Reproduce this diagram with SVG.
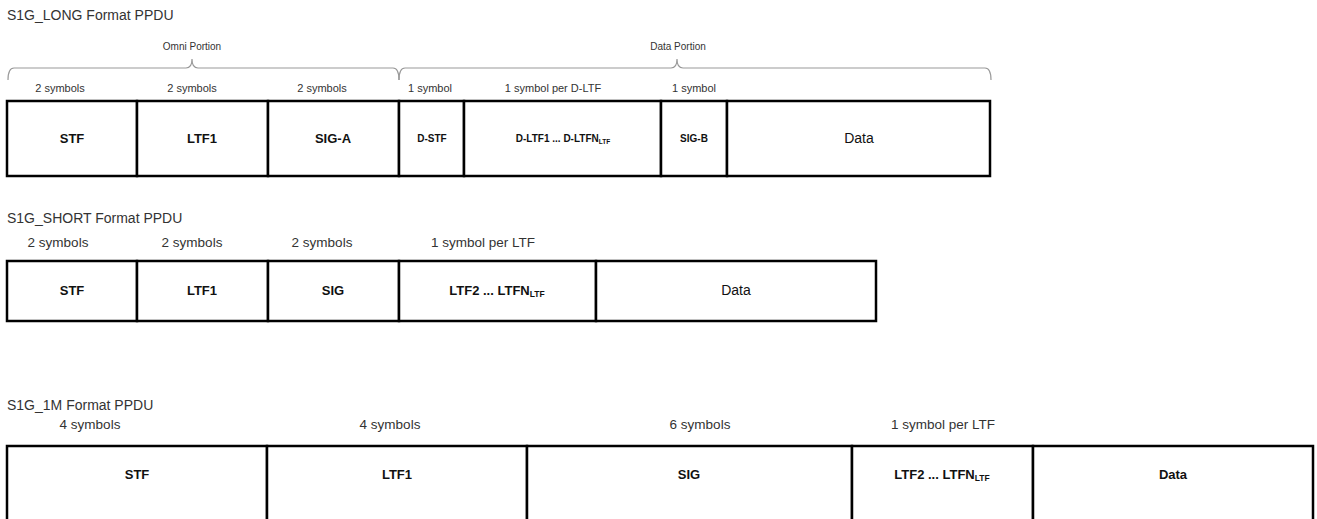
<svg xmlns="http://www.w3.org/2000/svg" width="1317" height="519" viewBox="0 0 1317 519">
<style>
.title{font-family:"Liberation Sans",Arial,sans-serif;font-size:14px;fill:#333}
.lbl{font-family:"Liberation Sans",Arial,sans-serif;font-size:11px;fill:#333;text-anchor:middle}
.lbl2{font-family:"Liberation Sans",Arial,sans-serif;font-size:13.5px;fill:#333;text-anchor:middle}
.por{font-family:"Liberation Sans",Arial,sans-serif;font-size:10px;fill:#333;text-anchor:middle}
.box{fill:#fff;stroke:#000;stroke-width:2.5}
.bt{font-family:"Liberation Sans",Arial,sans-serif;font-size:13px;font-weight:bold;fill:#111;text-anchor:middle}
.bs{font-family:"Liberation Sans",Arial,sans-serif;font-size:10px;font-weight:bold;fill:#111;text-anchor:middle}
.dt{font-family:"Liberation Sans",Arial,sans-serif;font-size:14px;fill:#111;text-anchor:middle}
.br{fill:none;stroke:#999;stroke-width:1.2}
</style>
<g id="long">
<text class="title" x="7" y="20">S1G_LONG Format PPDU</text>
<text class="por" x="192" y="50">Omni Portion</text>
<text class="por" x="678" y="50">Data Portion</text>
<g id="brackets">
<path class="br" d="M8,80 Q8,68 14,68 L186,68 Q192,68 192,59 Q192,68 198,68 L393,68 Q399,68 399,80"/>
<path class="br" d="M399,80 Q399,68 405,68 L671,68 Q677,68 677,59 Q677,68 683,68 L985,68 Q991,68 991,80"/>
</g>
<text class="lbl" x="60" y="92">2 symbols</text>
<text class="lbl" x="192" y="92">2 symbols</text>
<text class="lbl" x="322" y="92">2 symbols</text>
<text class="lbl" x="430" y="92">1 symbol</text>
<text class="lbl" x="553" y="92">1 symbol per D-LTF</text>
<text class="lbl" x="694" y="92">1 symbol</text>
<g id="long-STF"><rect class="box" x="7" y="101" width="130" height="75"/><text class="bt" x="72" y="143">STF</text></g>
<g id="long-LTF1"><rect class="box" x="137" y="101" width="131" height="75"/><text class="bt" x="202" y="143">LTF1</text></g>
<g id="long-SIGA"><rect class="box" x="268" y="101" width="131" height="75"/><text class="bt" x="333" y="143">SIG-A</text></g>
<g id="long-DSTF"><rect class="box" x="399" y="101" width="65" height="75"/><text class="bs" x="432" y="142">D-STF</text></g>
<g id="long-DLTF"><rect class="box" x="464" y="101" width="197" height="75"/><text class="bs" x="563" y="142">D-LTF1 ... D-LTFN<tspan font-size="6.5" dy="2">LTF</tspan></text></g>
<g id="long-SIGB"><rect class="box" x="661" y="101" width="66" height="75"/><text class="bs" x="694" y="142">SIG-B</text></g>
<g id="long-Data"><rect class="box" x="727" y="101" width="263" height="75"/><text class="dt" x="859" y="143">Data</text></g>
</g>
<g id="short">
<text class="title" x="7" y="223">S1G_SHORT Format PPDU</text>
<text class="lbl2" x="58" y="247">2 symbols</text>
<text class="lbl2" x="192" y="247">2 symbols</text>
<text class="lbl2" x="322" y="247">2 symbols</text>
<text class="lbl2" x="483" y="247">1 symbol per LTF</text>
<g id="short-STF"><rect class="box" x="7" y="261" width="130" height="60"/><text class="bt" x="72" y="295">STF</text></g>
<g id="short-LTF1"><rect class="box" x="137" y="261" width="131" height="60"/><text class="bt" x="202" y="295">LTF1</text></g>
<g id="short-SIG"><rect class="box" x="268" y="261" width="131" height="60"/><text class="bt" x="333" y="295">SIG</text></g>
<g id="short-LTF"><rect class="box" x="399" y="261" width="197" height="60"/><text class="bt" x="497" y="295">LTF2 ... LTFN<tspan font-size="8.5" dy="2">LTF</tspan></text></g>
<g id="short-Data"><rect class="box" x="596" y="261" width="280" height="60"/><text class="dt" x="736" y="295">Data</text></g>
</g>
<g id="m1">
<text class="title" x="7" y="410">S1G_1M Format PPDU</text>
<text class="lbl2" x="90" y="429">4 symbols</text>
<text class="lbl2" x="390" y="429">4 symbols</text>
<text class="lbl2" x="700" y="429">6 symbols</text>
<text class="lbl2" x="943" y="429">1 symbol per LTF</text>
<g id="m1-STF"><rect class="box" x="7" y="446" width="260" height="80"/><text class="bt" x="137" y="479">STF</text></g>
<g id="m1-LTF1"><rect class="box" x="267" y="446" width="260" height="80"/><text class="bt" x="397" y="479">LTF1</text></g>
<g id="m1-SIG"><rect class="box" x="527" y="446" width="325" height="80"/><text class="bt" x="689" y="479">SIG</text></g>
<g id="m1-LTF"><rect class="box" x="852" y="446" width="181" height="80"/><text class="bt" x="942" y="479">LTF2 ... LTFN<tspan font-size="8.5" dy="2">LTF</tspan></text></g>
<g id="m1-Data"><rect class="box" x="1033" y="446" width="280" height="80"/><text class="bt" x="1173" y="479">Data</text></g>
</g>
</svg>
